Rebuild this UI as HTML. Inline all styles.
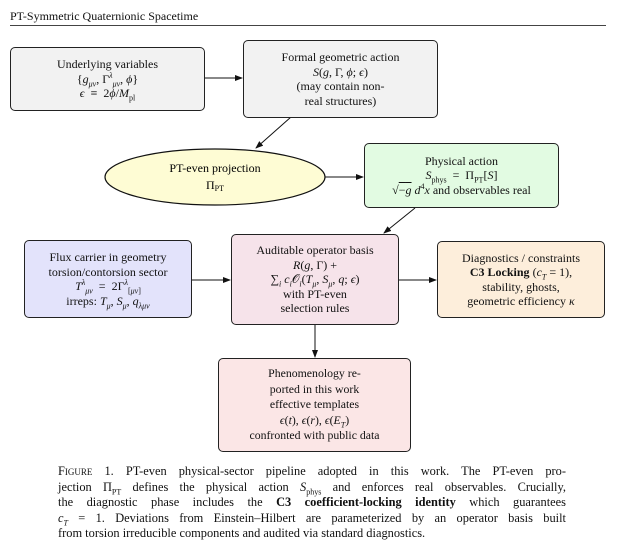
<!DOCTYPE html>
<html><head><meta charset="utf-8"><style>
body{margin:0;width:625px;height:557px;background:#fff;font-family:"Liberation Serif",serif;color:#111;position:relative;overflow:hidden}
.hdr{position:absolute;left:10px;top:9px;font-size:12px}
.rule{position:absolute;left:10px;top:25px;width:596px;height:1px;background:#444}
.b{position:absolute;box-sizing:border-box;border:1.2px solid #222;border-radius:5px;display:flex;justify-content:center;align-items:center;text-align:center;font-size:12px;line-height:14.5px}
.cap{position:absolute;left:58px;top:464px;width:508px;font-size:12.4px;line-height:15.5px}
.cap div{text-align:justify;text-align-last:justify;white-space:nowrap}
.cap div.l{text-align-last:left}
i{font-style:italic}
sub,sup{font-size:8px;line-height:0}
</style></head><body>
<div class="hdr">PT-Symmetric Quaternionic Spacetime</div>
<div class="rule"></div>
<svg width="625" height="557" style="position:absolute;left:0;top:0">
<defs><marker id="a" markerWidth="8" markerHeight="6" refX="7" refY="3" orient="auto" markerUnits="userSpaceOnUse"><path d="M0,0L8,3L0,6z" fill="#111"/></marker></defs>
<g stroke="#111" stroke-width="1" fill="none" marker-end="url(#a)">
<line x1="205" y1="78" x2="242" y2="78"/>
<line x1="291" y1="117" x2="256" y2="148"/>
<line x1="325" y1="177" x2="363" y2="177"/>
<line x1="415" y1="208" x2="384" y2="233"/>
<line x1="192" y1="280" x2="230" y2="280"/>
<line x1="399" y1="280" x2="436" y2="280"/>
<line x1="315" y1="324" x2="315" y2="357"/>
</g>
<ellipse cx="215" cy="177" rx="110" ry="28" fill="#fefcd4" stroke="#111" stroke-width="1.2"/>
<text x="215" y="172" font-size="12" text-anchor="middle" font-family="Liberation Serif,serif">PT-even projection</text>
<text x="215" y="189" font-size="12" text-anchor="middle" font-family="Liberation Serif,serif">Π<tspan font-size="8" dy="2">PT</tspan></text>
</svg>
<div class="b" style="left:10px;top:47px;width:195px;height:64px;background:#f2f2f2"><div>Underlying variables<br>{<i>g</i><sub><i>μν</i></sub>, Γ<sup><i>λ</i></sup><sub><i>μν</i></sub>, <i>ϕ</i>}<br><i>ϵ</i> &nbsp;≡&nbsp; 2<i>ϕ</i>/<i>M</i><sub>pl</sub></div></div>
<div class="b" style="left:243px;top:40px;width:195px;height:78px;background:#f2f2f2"><div>Formal geometric action<br><i>S</i>(<i>g</i>, Γ, <i>ϕ</i>; <i>ϵ</i>)<br>(may contain non-<br>real structures)</div></div>
<div class="b" style="left:364px;top:143px;width:195px;height:65px;background:#e2fbe2"><div>Physical action<br><i>S</i><sub>phys</sub> &nbsp;=&nbsp; Π<sub>PT</sub>[<i>S</i>]<br>√<span style="text-decoration:overline">−<i>g</i></span> <i>d</i><sup>4</sup><i>x</i> and observables real</div></div>
<div class="b" style="left:24px;top:240px;width:168px;height:78px;background:#e3e3fb"><div>Flux carrier in geometry<br>torsion/contorsion sector<br><i>T</i><sup><i>λ</i></sup><sub><i>μν</i></sub> &nbsp;=&nbsp; 2Γ<sup><i>λ</i></sup><sub>[<i>μν</i>]</sub><br>irreps: <i>T</i><sub><i>μ</i></sub>, <i>S</i><sub><i>μ</i></sub>, <i>q</i><sub><i>λμν</i></sub></div></div>
<div class="b" style="left:231px;top:234px;width:168px;height:91px;background:#f6e3ea"><div>Auditable operator basis<br><i>R</i>(<i>g</i>, Γ) +<br>∑<sub><i>i</i></sub> <i>c<sub>i</sub></i>𝒪<sub><i>i</i></sub>(<i>T<sub>μ</sub></i>, <i>S<sub>μ</sub></i>, <i>q</i>; <i>ϵ</i>)<br>with PT-even<br>selection rules</div></div>
<div class="b" style="left:437px;top:241px;width:168px;height:77px;background:#fdeedb"><div>Diagnostics / constraints<br><b>C3 Locking</b> (<i>c<sub>T</sub></i> = 1),<br>stability, ghosts,<br>geometric efficiency <i>κ</i></div></div>
<div class="b" style="left:218px;top:358px;width:193px;height:94px;background:#fbe6e6;line-height:15.5px;font-size:11.8px"><div>Phenomenology re-<br>ported in this work<br>effective templates<br><i>ϵ</i>(<i>t</i>), <i>ϵ</i>(<i>r</i>), <i>ϵ</i>(<i>E<sub>T</sub></i>)<br>confronted with public data</div></div>
<div class="cap">
<div><span style="font-variant:small-caps">Figure</span> 1. PT-even physical-sector pipeline adopted in this work. The PT-even pro-</div>
<div>jection Π<sub>PT</sub> defines the physical action <i>S</i><sub>phys</sub> and enforces real observables. Crucially,</div>
<div>the diagnostic phase includes the <b>C3 coefficient-locking identity</b> which guarantees</div>
<div><i>c<sub>T</sub></i> = 1. Deviations from Einstein–Hilbert are parameterized by an operator basis built</div>
<div class="l">from torsion irreducible components and audited via standard diagnostics.</div>
</div>
</body></html>
